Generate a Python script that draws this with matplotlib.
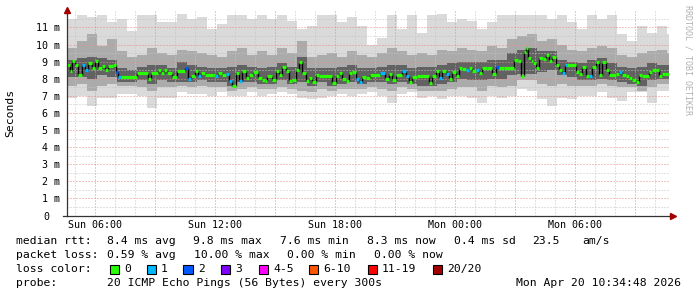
import matplotlib
matplotlib.use("Agg")
import matplotlib.pyplot as plt
import numpy as np
from matplotlib.patches import Rectangle
from matplotlib.transforms import ScaledTranslation

# median rtt: step start (minutes after Sun 00:00), value in ms, lost pings of 20
med_start = [276, 285, 291, 300, 309, 321, 330, 339, 351, 360,
             369, 381, 390, 399, 414, 423, 429, 438, 486, 519,
             528, 549, 558, 567, 576, 591, 606, 630, 639, 648,
             660, 669, 678, 690, 714, 720, 729, 741, 753, 762,
             771, 783, 792, 801, 813, 822, 834, 849, 861, 870,
             876, 891, 903, 912, 921, 933, 942, 951, 963, 972,
             981, 993, 1002, 1011, 1023, 1032, 1071, 1083, 1092, 1101,
             1113, 1122, 1131, 1143, 1152, 1161, 1173, 1185, 1215, 1230,
             1242, 1251, 1263, 1281, 1293, 1302, 1311, 1326, 1362, 1371,
             1383, 1392, 1401, 1413, 1422, 1431, 1443, 1452, 1461, 1473,
             1482, 1491, 1503, 1512, 1521, 1536, 1551, 1563, 1572, 1587,
             1617, 1629, 1638, 1647, 1653, 1659, 1668, 1674, 1683, 1692,
             1704, 1713, 1722, 1731, 1743, 1752, 1761, 1770, 1776, 1803,
             1812, 1821, 1833, 1842, 1851, 1863, 1872, 1881, 1893, 1902,
             1923, 1932, 1941, 1953, 1962, 1971, 1983, 1992, 2001, 2022,
             2031, 2043, 2052, 2061, 2070]
med_end = 2082
med_ms = [8.78, 8.43, 9.01, 8.78, 8.24, 8.78, 8.53, 8.92, 8.63, 9.05,
          8.63, 8.72, 8.53, 8.72, 8.82, 8.39, 8.08, 8.08, 8.33, 8.0,
          8.33, 8.53, 8.33, 8.53, 8.33, 8.08, 8.43, 8.63, 8.0, 8.14,
          8.43, 8.14, 8.33, 8.2, 8.24, 8.14, 8.33, 8.24, 8.3, 7.89,
          7.6, 8.33, 7.85, 8.47, 8.04, 8.24, 8.39, 8.04, 7.94, 7.85,
          8.14, 7.94, 8.43, 8.24, 8.67, 8.43, 7.85, 7.94, 8.53, 8.98,
          8.33, 7.89, 8.04, 7.81, 8.24, 8.14, 7.75, 8.14, 8.33, 8.0,
          7.85, 8.33, 8.39, 8.0, 7.81, 8.08, 8.04, 8.24, 8.33, 8.0,
          8.27, 7.94, 8.24, 8.43, 8.14, 7.81, 8.08, 8.18, 7.75, 8.14,
          8.43, 8.04, 8.43, 8.27, 8.0, 8.39, 8.18, 8.65, 8.57, 8.53,
          8.63, 8.43, 8.49, 8.33, 8.65, 8.63, 8.27, 8.67, 8.63, 8.65,
          9.1, 9.01, 8.14, 9.56, 9.8, 9.21, 9.01, 8.92, 8.63, 9.21,
          9.17, 9.41, 9.05, 9.25, 8.78, 8.53, 8.33, 8.78, 8.78, 8.39,
          8.27, 8.66, 8.14, 8.14, 8.66, 8.98, 8.24, 8.98, 8.53, 8.24,
          8.27, 8.37, 8.24, 8.14, 8.04, 7.94, 7.81, 8.24, 8.18, 8.39,
          8.53, 8.51, 8.14, 8.27, 8.3]
med_loss = [0, 0, 0, 0, 0, 1, 1, 0, 0, 0,
            0, 0, 0, 0, 0, 2, 1, 0, 0, 0,
            0, 0, 0, 0, 0, 0, 0, 2, 1, 0,
            0, 1, 0, 0, 0, 1, 0, 0, 1, 1,
            0, 0, 1, 0, 0, 0, 0, 0, 0, 0,
            0, 0, 0, 0, 0, 0, 0, 0, 0, 0,
            0, 0, 0, 0, 0, 0, 0, 0, 0, 0,
            0, 0, 0, 1, 1, 0, 0, 0, 1, 0,
            0, 0, 0, 1, 1, 0, 0, 0, 0, 0,
            0, 1, 0, 1, 0, 0, 0, 0, 0, 1,
            0, 0, 1, 0, 0, 0, 0, 2, 0, 0,
            0, 0, 0, 0, 0, 0, 0, 0, 0, 0,
            0, 0, 0, 0, 0, 0, 1, 1, 0, 0,
            0, 0, 0, 1, 0, 0, 0, 0, 0, 0,
            0, 1, 0, 0, 0, 0, 0, 0, 0, 0,
            0, 0, 0, 0, 0]

# smoke, one value per 30 minute slot starting at 04:36 (ms)
smoke_start = 276
smoke_max = [11.5, 11.7, 11.6, 11.7, 11.3, 11.5, 10.8, 11.7, 11.7, 11.3, 11.3, 11.8, 11.5, 11.6, 10.9,
             11.2, 11.7, 11.7, 11.5, 11.7, 11.5, 11.7, 11.4, 10.9, 11.1, 11.7, 11.7, 11.3, 11.6, 11.1,
             10.0, 10.4, 11.7, 10.9, 11.7, 10.7, 11.7, 11.8, 11.3, 11.5, 11.4, 10.9, 11.3, 11.7, 11.7,
             11.7, 11.7, 11.7, 11.5, 11.7, 11.3, 10.9, 11.7, 11.5, 11.7, 10.6, 10.2, 11.1, 10.7, 11.1, 10.6]
smoke_hi2 = [9.8, 10.2, 10.6, 9.9, 10.3, 9.6, 9.3, 9.4, 9.8, 9.5, 9.4, 9.7, 9.6, 9.5, 9.4,
             9.3, 9.6, 9.8, 9.4, 9.6, 9.4, 9.8, 9.5, 10.2, 9.3, 9.4, 9.5, 9.3, 9.6, 9.4,
             9.3, 9.5, 9.8, 9.6, 9.4, 9.5, 9.4, 9.7, 9.6, 9.8, 9.7, 9.6, 9.9, 9.8, 10.3,
             10.5, 10.6, 10.2, 10.3, 10.0, 9.7, 9.6, 9.8, 9.9, 9.8, 9.4, 9.3, 9.5, 9.6, 9.7, 9.5]
smoke_hi1 = [9.1, 9.2, 9.3, 9.2, 9.1, 8.6, 8.5, 8.7, 8.8, 8.8, 8.6, 9.0, 8.8, 8.7, 8.6,
             8.6, 8.7, 8.8, 8.7, 8.6, 8.7, 8.9, 8.7, 9.3, 8.6, 8.6, 8.6, 8.7, 8.8, 8.6,
             8.6, 8.7, 8.8, 8.8, 8.6, 8.7, 8.7, 8.8, 8.9, 9.0, 9.0, 9.0, 9.1, 9.1, 9.5,
             9.7, 9.8, 9.6, 9.6, 9.1, 9.0, 8.9, 9.1, 9.2, 8.9, 8.7, 8.6, 8.7, 8.9, 8.8, 8.8]
smoke_lo1 = [8.1, 8.1, 8.0, 8.2, 8.1, 7.8, 7.8, 7.9, 7.7, 7.9, 7.8, 7.8, 7.8, 7.9, 7.8,
             7.8, 7.6, 7.8, 7.8, 7.7, 7.7, 7.9, 7.7, 7.8, 7.6, 7.8, 7.6, 7.7, 7.8, 7.7,
             7.8, 7.8, 7.7, 7.8, 7.7, 7.6, 7.6, 7.7, 7.8, 8.0, 7.9, 7.9, 8.0, 8.0, 8.2,
             8.3, 8.3, 8.4, 8.5, 8.2, 8.1, 7.9, 7.9, 8.0, 7.9, 7.8, 7.7, 7.6, 7.9, 8.0, 8.0]
smoke_lo2 = [7.6, 7.7, 7.3, 7.6, 7.7, 7.6, 7.6, 7.5, 7.3, 7.5, 7.5, 7.6, 7.5, 7.6, 7.5,
             7.5, 7.3, 7.4, 7.5, 7.4, 7.4, 7.5, 7.4, 7.3, 7.2, 7.4, 7.3, 7.4, 7.4, 7.4,
             7.5, 7.4, 7.3, 7.5, 7.4, 7.3, 7.3, 7.3, 7.4, 7.5, 7.5, 7.3, 7.6, 7.5, 7.6,
             7.9, 7.9, 7.7, 7.6, 7.7, 7.6, 7.6, 7.6, 7.7, 7.6, 7.5, 7.5, 7.3, 7.5, 7.7, 7.7]
smoke_min = [6.9, 7.0, 6.4, 6.9, 6.9, 7.1, 7.1, 7.0, 6.3, 6.9, 6.9, 7.2, 7.1, 7.1, 7.0,
             7.2, 7.0, 7.0, 7.2, 7.0, 7.1, 7.2, 7.1, 6.9, 6.8, 6.9, 7.0, 7.1, 7.0, 7.1,
             7.2, 7.0, 6.6, 7.1, 7.2, 6.9, 7.0, 6.8, 7.0, 7.0, 6.9, 6.6, 7.0, 6.9, 7.0,
             7.4, 7.3, 6.8, 6.4, 6.9, 6.8, 7.0, 7.0, 7.2, 6.9, 6.7, 7.2, 7.2, 6.6, 7.3, 7.3]

loss_colors = ['#26ff00', '#00b8ff', '#0059ff', '#7e00ff', '#ff00ff', '#ff5500', '#ff0000', '#a10000']
loss_names = ['0', '1', '2', '3', '4-5', '6-10', '11-19', '20/20']
xtick_hours = [6, 12, 18, 24, 30]
xtick_labels = ['Sun 06:00', 'Sun 12:00', 'Sun 18:00', 'Mon 00:00', 'Mon 06:00']

MONO = 'DejaVu Sans Mono'
W, H = 697, 297

fig = plt.figure(figsize=(W / 100, H / 100), dpi=100)
fig.patch.set_facecolor('white')
ax = fig.add_axes([67 / W, 1 - 215.5 / H, 602 / W, 205.5 / H])
ax.set_xlim(4.6, 34.7)
ax.set_ylim(0, 12.02)

# smoke
edges = (smoke_start + 30 * np.arange(len(smoke_max) + 1)) / 60
ax.stairs(smoke_max, edges, baseline=smoke_min, fill=True, color='#dadada', lw=0, zorder=1)
ax.stairs(smoke_hi2, edges, baseline=smoke_lo2, fill=True, color='#ababab', lw=0, zorder=1.1)
ax.stairs(smoke_hi1, edges, baseline=smoke_lo1, fill=True, color='#626262', lw=0, zorder=1.2)

# median
t0 = np.array(med_start) / 60
t1 = np.append(t0[1:], med_end / 60)
v = np.array(med_ms)
ax.vlines(t0[1:], np.minimum(v[:-1], v[1:]), np.maximum(v[:-1], v[1:]),
          color='black', lw=1.0, zorder=3)
ax.hlines(v, t0, t1, colors=[loss_colors[l] for l in med_loss], lw=2.3, zorder=4)

# grid
ax.set_xticks(np.arange(6, 35, 3))
ax.set_xticks(np.arange(5, 35, 1), minor=True)
ax.set_xticklabels([xtick_labels[xtick_hours.index(h)] if h in xtick_hours else ''
                    for h in np.arange(6, 35, 3)])
ax.set_yticks(np.arange(0, 12, 1))
ax.set_yticks(np.arange(0.5, 12, 1), minor=True)
ax.set_yticklabels(['0'] + [f'{i} m' for i in range(1, 12)])
ax.grid(which='minor', color='#c4c4c4', lw=0.72, ls=(0, (1, 2)))
ax.grid(which='major', color='#e88a8a', lw=0.72, ls=(0, (1, 2)))
ax.set_axisbelow(False)
ax.tick_params(which='both', length=0)
ax.tick_params(axis='x', pad=3.5, labelsize=7.2)
ax.tick_params(axis='y', pad=5, labelsize=7.2)
for lab in ax.get_xticklabels() + ax.get_yticklabels():
    lab.set_family(MONO)
zero = ax.get_yticklabels()[0]
zero.set_transform(zero.get_transform() + ScaledTranslation(-11 / 100, 0, fig.dpi_scale_trans))

for s in ax.spines.values():
    s.set_visible(False)
ax.plot([-4 / 602, 1 + 4 / 602], [0, 0], color='#333333', lw=0.9, transform=ax.transAxes, clip_on=False, zorder=5)
ax.plot([0, 0], [0, 1], color='#333333', lw=0.9, transform=ax.transAxes, clip_on=False, zorder=5)
ax.plot(1 + 4 / 602, 0, marker='>', color='#a00000', ms=4, transform=ax.transAxes, clip_on=False, zorder=6)
ax.plot(0, 1, marker='^', color='#a00000', ms=4, transform=ax.transAxes, clip_on=False, zorder=6)


def txt(x, y, s, **kw):
    fig.text(x / W, 1 - y / H, s, family=MONO, size=8.2, va='center', **kw)


fig.text(10 / W, 1 - 113 / H, 'Seconds', family=MONO, size=8.2, rotation=90, va='center', ha='center')
fig.text(688 / W, 1 - 60 / H, 'RRDTOOL / TOBI OETIKER', family=MONO, size=6, color='#b0b0b0',
         rotation=270, va='center', ha='center')

# legend rows
txt(16, 241, 'median rtt:')
for x, s in zip([107, 193, 280, 367, 454, 532, 582],
                ['8.4 ms avg', '9.8 ms max', '7.6 ms min', '8.3 ms now', '0.4 ms sd', '23.5', 'am/s']):
    txt(x, 241, s)
txt(16, 255, 'packet loss:')
for x, s in zip([107, 194, 287, 374], ['0.59 % avg', '10.00 % max', '0.00 % min', '0.00 % now']):
    txt(x, 255, s)
txt(16, 269, 'loss color:')
box_x = [109.5, 146.5, 183.5, 221, 258.5, 309, 367.5, 433]
for bx, c, name in zip(box_x, loss_colors, loss_names):
    fig.patches.append(Rectangle((bx / W, 1 - 273.5 / H), 9 / W, 9 / H, facecolor=c,
                                 edgecolor='black', lw=0.8, transform=fig.transFigure, figure=fig))
    txt(bx + 14.5, 269, name)
txt(16, 283, 'probe:')
txt(107, 283, '20 ICMP Echo Pings (56 Bytes) every 300s')
txt(515.5, 283, 'Mon Apr 20 10:34:48 2026')

fig.savefig('out.png', dpi=100)
